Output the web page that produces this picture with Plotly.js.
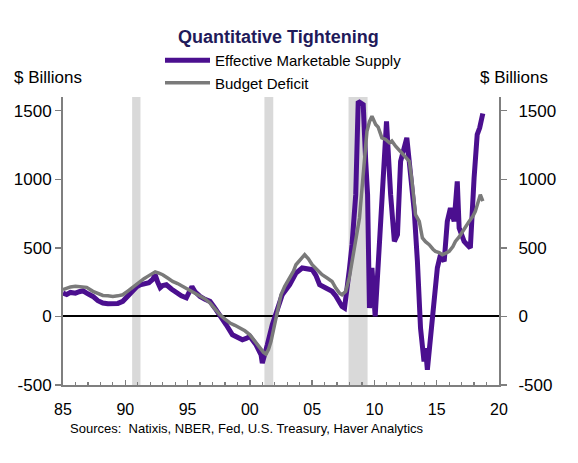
<!DOCTYPE html>
<html>
<head>
<meta charset="utf-8">
<script src="https://cdn.plot.ly/plotly-3.0.1.min.js"></script>
<style>
  html, body { margin: 0; padding: 0; background: #ffffff; }
  #chart { width: 578px; height: 463px; }
</style>
</head>
<body>
<div id="chart"></div>
<script>
// ---- Data, x in decimal years ----
const supplyYears = [
  1985.0, 1985.3, 1985.6, 1986.0, 1986.3, 1986.6, 1987.0, 1987.4, 1987.8, 1988.2,
  1988.6, 1989.0, 1989.4, 1989.8, 1990.2, 1990.5, 1990.9, 1991.2, 1991.6, 1991.9,
  1992.2, 1992.4, 1992.6, 1992.8, 1993.0, 1993.3, 1993.7, 1994.1, 1994.5, 1994.9,
  1995.2, 1995.35, 1995.6, 1996.0, 1996.4, 1996.8, 1997.2, 1997.6, 1998.1, 1998.6,
  1999.0, 1999.4, 1999.7, 2000.0, 2000.5, 2000.9, 2001.0, 2001.2, 2001.4, 2001.8,
  2002.2, 2002.6, 2003.2, 2003.7, 2004.2, 2004.6, 2005.0, 2005.3, 2005.6, 2006.1,
  2006.6, 2006.9, 2007.2, 2007.4, 2007.6, 2007.8, 2008.0, 2008.2, 2008.5, 2008.7,
  2008.9, 2009.1, 2009.3, 2009.45, 2009.6, 2009.8, 2010.06, 2010.4, 2010.6, 2010.97,
  2011.3, 2011.6, 2011.85, 2012.1, 2012.6, 2012.9, 2013.2, 2013.45, 2013.7, 2013.98,
  2014.1, 2014.25, 2014.5, 2014.8, 2015.05, 2015.3, 2015.6, 2015.85, 2016.1, 2016.4,
  2016.65, 2016.8, 2017.2, 2017.45, 2017.7, 2018.0, 2018.25, 2018.45, 2018.6, 2018.7
];
const supplyValues = [
  171, 160, 175, 170, 180, 187, 165, 146, 115, 98,
  92, 90, 95, 110, 150, 183, 215, 231, 240, 246,
  270, 304, 250, 210, 225, 231, 200, 171, 150, 136,
  195, 217, 180, 146, 125, 110, 60, 12, -61, -134,
  -150, -170, -160, -146, -207, -280, -340, -280, -207, -61,
  61, 158, 231, 316, 353, 350, 341, 300, 231, 207,
  183, 150, 98, 73, 61, 183, 350, 523, 888, 1569,
  1560, 1545, 1131, 888, 61, 353, 0, 523, 888, 1423,
  888, 547, 596, 1131, 1302, 1010, 766, 401, -85, -328,
  -231, -389, -134, 110, 353, 450, 401, 693, 791, 693,
  985, 645, 547, 523, 499, 1010, 1326, 1375, 1472, 1480
];

const deficitYears = [
  1985.0, 1985.3, 1985.6, 1986.0, 1986.5, 1986.9, 1987.4, 1987.8, 1988.2, 1988.6,
  1989.0, 1989.4, 1989.8, 1990.2, 1990.5, 1990.9, 1991.2, 1991.5, 1991.8, 1992.1,
  1992.4, 1992.7, 1993.0, 1993.4, 1993.8, 1994.2, 1994.6, 1995.2, 1995.7, 1996.4,
  1996.8, 1997.2, 1997.6, 1998.0, 1998.4, 1998.8, 1999.2, 1999.6, 2000.0, 2000.4,
  2000.8, 2001.1, 2001.3, 2001.5, 2001.7, 2001.9, 2002.1, 2002.3, 2002.5, 2002.8,
  2003.2, 2003.5, 2003.7, 2004.0, 2004.4, 2004.7, 2005.0, 2005.4, 2005.8, 2006.2,
  2006.6, 2006.9, 2007.2, 2007.4, 2007.7, 2008.0, 2008.2, 2008.5, 2008.8, 2009.0,
  2009.2, 2009.4, 2009.6, 2009.8, 2010.1, 2010.3, 2010.6, 2010.9, 2011.2, 2011.4,
  2011.7, 2012.0, 2012.2, 2012.5, 2012.8, 2013.0, 2013.3, 2013.6, 2013.85, 2014.1,
  2014.4, 2014.7, 2014.9, 2015.2, 2015.45, 2015.7, 2016.0, 2016.3, 2016.5, 2016.8,
  2017.05, 2017.3, 2017.6, 2017.9, 2018.1, 2018.3, 2018.5, 2018.7
];
const deficitValues = [
  195, 205, 215, 220, 218, 212, 183, 165, 153, 150,
  146, 150, 158, 185, 207, 235, 255, 275, 292, 305,
  325, 315, 304, 280, 255, 240, 219, 183, 163, 128,
  98, 55, 12, -20, -48, -65, -85, -105, -134, -180,
  -231, -262, -275, -240, -182, -100, -12, 80, 158, 220,
  280, 330, 377, 410, 450, 420, 377, 340, 304, 280,
  255, 207, 170, 158, 183, 290, 401, 560, 718, 930,
  1131, 1350, 1420, 1460, 1400, 1380, 1302, 1290, 1266, 1280,
  1241, 1210, 1193, 1160, 1131, 1000, 742, 693, 572, 545,
  523, 490, 474, 465, 450, 460, 474, 510, 547, 580,
  620, 650, 693, 730, 766, 820, 888, 840
];

// NBER recessions
const recessionStart = [1990.55, 2001.17, 2007.92];
const recessionEnd   = [1991.22, 2001.88, 2009.45];

// Axis ticks
const xTickVals  = [1985, 1990, 1995, 2000, 2005, 2010, 2015, 2020];
const xTickText  = ['85', '90', '95', '00', '05', '10', '15', '20'];
const yTickVals  = [-500, 0, 500, 1000, 1500];
const yTickText  = ['-500', '0', '500', '1000', '1500'];

const seriesNames = ['Effective Marketable Supply', 'Budget Deficit'];
const titleText = 'Quantitative Tightening';
const unitText = '$ Billions';
const sourceText = 'Sources:  Natixis, NBER, Fed, U.S. Treasury, Haver Analytics';

// ---- Chart ----
const FONT = 'Liberation Sans, Arial, Helvetica, sans-serif';
const AXIS_GRAY = '#7f7f7f';

const traces = [
  {
    x: supplyYears, y: supplyValues, name: seriesNames[0],
    type: 'scatter', mode: 'lines',
    line: { color: '#4b0f8f', width: 5 },
    xaxis: 'x', yaxis: 'y'
  },
  {
    x: deficitYears, y: deficitValues, name: seriesNames[1],
    type: 'scatter', mode: 'lines',
    line: { color: '#7a7a7a', width: 3.5 },
    xaxis: 'x', yaxis: 'y2'
  }
];

const shapes = recessionStart.map((s, i) => ({
  type: 'rect', xref: 'x', yref: 'paper',
  x0: s, x1: recessionEnd[i], y0: 0, y1: 1,
  fillcolor: '#d9d9d9', line: { width: 0 }, layer: 'below'
}));

const yCommon = {
  range: [-500, 1600],
  tickmode: 'array', tickvals: yTickVals, ticktext: yTickText,
  ticks: 'outside', ticklen: 6, tickwidth: 1.5, tickcolor: AXIS_GRAY,
  showline: true, linecolor: AXIS_GRAY, linewidth: 2,
  showgrid: false, automargin: false,
  tickfont: { family: FONT, size: 17, color: '#000000' },
  fixedrange: true
};

const layout = {
  width: 578, height: 463,
  margin: { l: 63, r: 79, t: 97, b: 78, autoexpand: false },
  paper_bgcolor: '#ffffff', plot_bgcolor: '#ffffff',
  font: { family: FONT, color: '#000000' },
  showlegend: true,
  legend: {
    x: (160 - 63) / 436, y: (385 - 44) / 288, xanchor: 'left', yanchor: 'top',
    bgcolor: 'rgba(0,0,0,0)',
    font: { family: FONT, size: 15, color: '#000000' },
    itemwidth: 45, tracegroupgap: 0
  },
  xaxis: {
    range: [1985, 2020],
    tickmode: 'array', tickvals: xTickVals, ticktext: xTickText,
    ticks: 'inside', ticklen: 5, tickwidth: 1.5, tickcolor: AXIS_GRAY,
    minor: { tickmode: 'linear', tick0: 1985, dtick: 1, ticks: 'inside', ticklen: 3, tickwidth: 1.2, tickcolor: AXIS_GRAY, showgrid: false },
    showline: true, linecolor: AXIS_GRAY, linewidth: 2,
    showgrid: false, zeroline: false, automargin: false,
    tickfont: { family: FONT, size: 16, color: '#000000' },
    ticklabelstandoff: 9,
    fixedrange: true
  },
  yaxis: Object.assign({}, yCommon, {
    zeroline: true, zerolinecolor: '#000000', zerolinewidth: 2
  }),
  yaxis2: Object.assign({}, yCommon, {
    overlaying: 'y', side: 'right', anchor: 'x', zeroline: false,
    ticklabelstandoff: 8
  }),
  shapes: shapes,
  annotations: [
    {
      text: '<b>' + titleText + '</b>', xref: 'paper', yref: 'paper',
      x: (278 - 63) / 436, y: (385 - 37) / 288, xanchor: 'center', yanchor: 'middle',
      showarrow: false, font: { family: FONT, size: 18, color: '#1f1a5a' }
    },
    {
      text: unitText, xref: 'paper', yref: 'paper',
      x: (12 - 63) / 436, y: (385 - 77) / 288, xanchor: 'left', yanchor: 'middle',
      showarrow: false, font: { family: FONT, size: 17, color: '#000000' }
    },
    {
      text: unitText, xref: 'paper', yref: 'paper',
      x: (478 - 63) / 436, y: (385 - 77) / 288, xanchor: 'left', yanchor: 'middle',
      showarrow: false, font: { family: FONT, size: 17, color: '#000000' }
    },
    {
      text: sourceText, xref: 'paper', yref: 'paper',
      x: (68 - 63) / 436, y: (385 - 428) / 288, xanchor: 'left', yanchor: 'middle',
      showarrow: false, font: { family: FONT, size: 13, color: '#000000' }
    }
  ]
};

Plotly.newPlot('chart', traces, layout, { displayModeBar: false, staticPlot: true });
</script>
</body>
</html>
